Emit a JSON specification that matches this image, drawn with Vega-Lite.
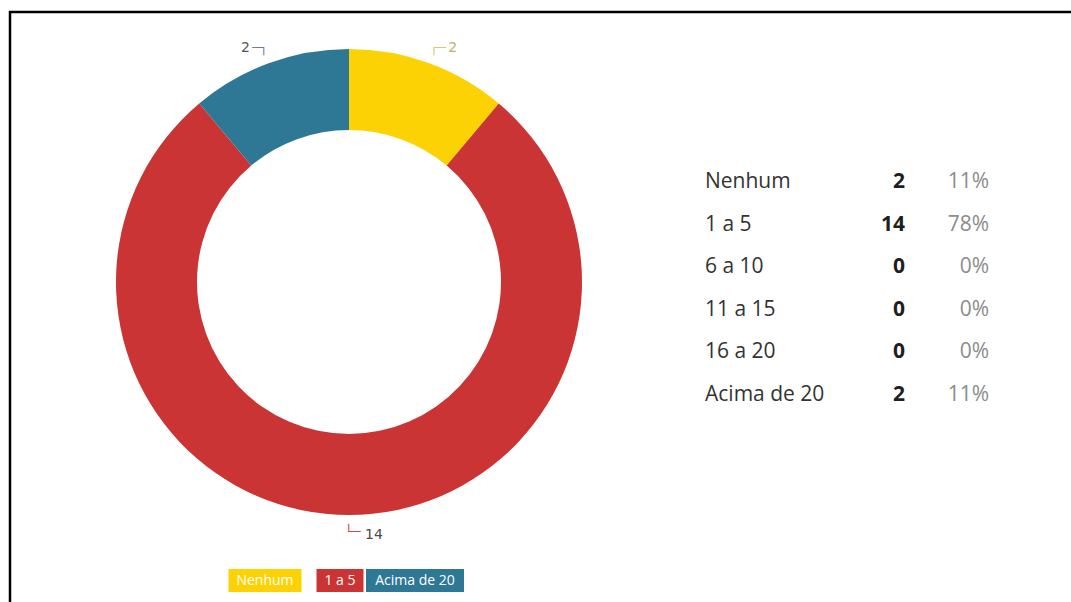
{
  "$schema": "https://vega.github.io/schema/vega-lite/v6.json",
  "background": "white",
  "padding": {"left": 8, "top": 10, "right": 0, "bottom": 0},
  "spacing": 0,
  "columns": 2,
  "bounds": "flush",
  "config": {"view": {"stroke": null}, "font": "Open Sans"},
  "datasets": {
    "respostas": [
      {"categoria": "Nenhum", "respostas": 2, "percentual": 0.111, "ordem": 1},
      {"categoria": "1 a 5", "respostas": 14, "percentual": 0.778, "ordem": 2},
      {"categoria": "6 a 10", "respostas": 0, "percentual": 0, "ordem": 3},
      {"categoria": "11 a 15", "respostas": 0, "percentual": 0, "ordem": 4},
      {"categoria": "16 a 20", "respostas": 0, "percentual": 0, "ordem": 5},
      {"categoria": "Acima de 20", "respostas": 2, "percentual": 0.111, "ordem": 6}
    ]
  },
  "data": {"name": "respostas"},
  "concat": [
    {
      "width": 678,
      "height": 540,
      "view": {"stroke": "#000000", "strokeWidth": 2.5, "strokeDash": [678, 1218, 560]},
      "encoding": {
        "theta": {"field": "respostas", "type": "quantitative", "stack": true},
        "order": {"field": "ordem", "type": "quantitative"},
        "detail": {"field": "categoria", "type": "nominal"}
      },
      "layer": [
        {
          "mark": {"type": "arc", "outerRadius": 233, "innerRadius": 152},
          "encoding": {
            "color": {
              "field": "categoria",
              "type": "nominal",
              "scale": {
                "domain": ["Nenhum", "1 a 5", "6 a 10", "11 a 15", "16 a 20", "Acima de 20"],
                "range": ["#FDD204", "#CB3434", "#888888", "#999999", "#aaaaaa", "#2E7895"]
              },
              "legend": null
            }
          }
        },
        {
          "mark": {"type": "text", "radius": 249, "align": "right", "baseline": "middle", "dx": -14, "fontSize": 14, "font": "DejaVu Sans", "fill": "#555555"},
          "encoding": {"text": {"condition": {"test": "datum.categoria === 'Acima de 20'", "field": "respostas", "type": "quantitative"}, "value": ""}}
        },
        {
          "mark": {"type": "text", "radius": 249, "align": "right", "baseline": "middle", "dx": 4, "fontSize": 13, "font": "DejaVu Sans", "fill": "#6a7f88"},
          "encoding": {"text": {"condition": {"test": "datum.categoria === 'Acima de 20'", "value": "─┐"}, "value": ""}}
        },
        {
          "mark": {"type": "text", "radius": 249, "align": "left", "baseline": "middle", "dx": 14, "fontSize": 14, "font": "DejaVu Sans", "fill": "#c4b06a"},
          "encoding": {"text": {"condition": {"test": "datum.categoria === 'Nenhum'", "field": "respostas", "type": "quantitative"}, "value": ""}}
        },
        {
          "mark": {"type": "text", "radius": 249, "align": "left", "baseline": "middle", "dx": -4, "fontSize": 13, "font": "DejaVu Sans", "fill": "#d6c47e"},
          "encoding": {"text": {"condition": {"test": "datum.categoria === 'Nenhum'", "value": "┌─"}, "value": ""}}
        },
        {
          "mark": {"type": "text", "radius": 250, "align": "left", "baseline": "middle", "dx": 16, "dy": 3, "fontSize": 14, "font": "DejaVu Sans", "fill": "#4a4a4a"},
          "encoding": {"text": {"condition": {"test": "datum.categoria === '1 a 5'", "field": "respostas", "type": "quantitative"}, "value": ""}}
        },
        {
          "mark": {"type": "text", "radius": 250, "align": "left", "baseline": "middle", "dx": -4, "fontSize": 13, "font": "DejaVu Sans", "fill": "#cc4444"},
          "encoding": {"text": {"condition": {"test": "datum.categoria === '1 a 5'", "value": "└─"}, "value": ""}}
        }
      ]
    },
    {
      "width": 385,
      "height": 540,
      "view": {"stroke": "#000000", "strokeWidth": 2.5, "strokeDash": [385, 2000]},
      "encoding": {
        "y": {
          "field": "categoria",
          "type": "nominal",
          "sort": {"field": "ordem", "op": "min"},
          "axis": null,
          "scale": {"paddingInner": 0, "paddingOuter": 0, "range": [148.7, 404.3]}
        }
      },
      "layer": [
        {
          "mark": {"type": "text", "align": "left", "baseline": "middle", "dx": -175.5, "fontSize": 21, "font": "Open Sans", "fill": "#333333"},
          "encoding": {"text": {"field": "categoria", "type": "nominal"}}
        },
        {
          "mark": {"type": "text", "align": "right", "baseline": "middle", "dx": 24.5, "fontSize": 21, "font": "Open Sans", "fontWeight": "bold", "fill": "#1e1e1e"},
          "encoding": {"text": {"field": "respostas", "type": "quantitative"}}
        },
        {
          "mark": {"type": "text", "align": "right", "baseline": "middle", "dx": 108.5, "fontSize": 21, "font": "Open Sans", "fill": "#8c8c8c"},
          "encoding": {"text": {"field": "percentual", "type": "quantitative", "format": ".0%"}}
        }
      ]
    },
    {
      "width": 678,
      "height": 52,
      "view": {"stroke": "#000000", "strokeWidth": 2.5, "strokeDash": [0, 1408, 60]},
      "transform": [{"filter": "datum.respostas > 0"}],
      "encoding": {
        "x": {
          "field": "categoria",
          "type": "nominal",
          "sort": {"field": "ordem", "op": "min"},
          "axis": null,
          "scale": {"paddingInner": 0, "paddingOuter": 0, "range": [217.5, 442.5]}
        }
      },
      "layer": [
        {
          "mark": {"type": "bar"},
          "encoding": {
            "y": {"datum": 1, "type": "quantitative", "axis": null, "scale": {"domain": [0, 1], "range": [40, 17]}},
            "color": {
              "field": "categoria",
              "type": "nominal",
              "scale": {
                "domain": ["Nenhum", "1 a 5", "6 a 10", "11 a 15", "16 a 20", "Acima de 20"],
                "range": ["#FDD204", "#CB3434", "#888888", "#999999", "#aaaaaa", "#2E7895"]
              },
              "legend": null
            },
            "size": {
              "field": "categoria",
              "type": "ordinal",
              "scale": {"type": "ordinal", "domain": ["Nenhum", "1 a 5", "Acima de 20"], "range": [73, 47, 98]},
              "legend": null
            }
          }
        },
        {
          "mark": {"type": "text", "fill": "#ffffff", "fontSize": 14, "font": "Open Sans", "baseline": "middle"},
          "encoding": {
            "y": {"datum": 0.5, "type": "quantitative", "axis": null, "scale": {"domain": [0, 1], "range": [40, 17]}},
            "text": {"field": "categoria", "type": "nominal"}
          }
        }
      ]
    }
  ]
}
